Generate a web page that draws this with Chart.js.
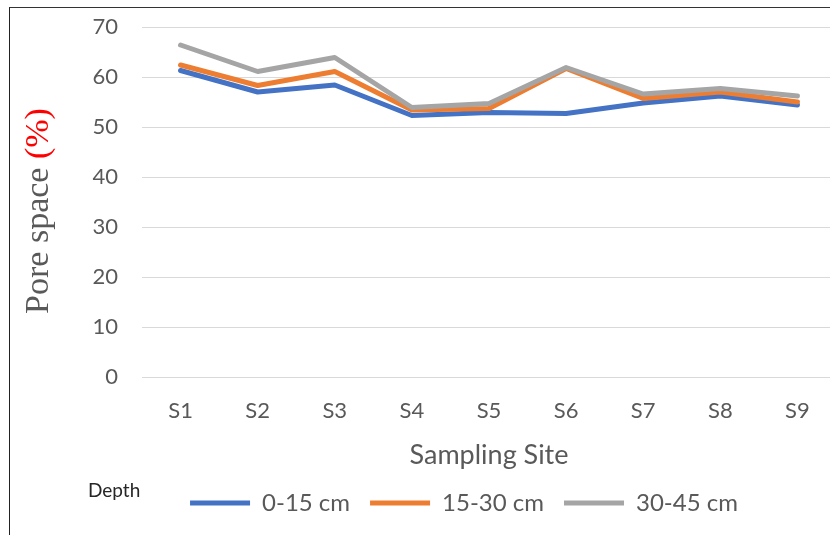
<!DOCTYPE html>
<html>
<head>
<meta charset="utf-8">
<script src="https://cdn.jsdelivr.net/npm/chart.js@4.4.1/dist/chart.umd.min.js"></script>
<style>
  html, body { margin: 0; padding: 0; background: #fff; }
  #wrap { position: relative; width: 830px; height: 535px; overflow: hidden; }
  #frame { position: absolute; left: 9px; top: 7px; right: -10px; bottom: -10px;
           border-left: 1.5px solid #222; border-top: 1.5px solid #333; pointer-events: none; }
  canvas { position: absolute; left: 0; top: 0; }
</style>
</head>
<body>
<div id="wrap">
  <canvas id="chart" width="836" height="535"></canvas>
  <div id="frame"></div>
</div>
<script>
const sites    = ["S1", "S2", "S3", "S4", "S5", "S6", "S7", "S8", "S9"];
const depth0   = [61.3, 57.0, 58.4, 52.3, 52.9, 52.7, 54.8, 56.2, 54.4];
const depth15  = [62.4, 58.3, 61.1, 53.4, 53.7, 61.7, 55.7, 57.0, 55.0];
const depth30  = [66.4, 61.1, 63.9, 53.9, 54.7, 61.9, 56.6, 57.7, 56.2];
const yTicks   = [0, 10, 20, 30, 40, 50, 60, 70];

const SANS = "Lato, 'Open Sans', sans-serif";
const GREY_TXT = "#595959";

// titre Y bicolore + libellé "Depth"
const extras = {
  id: "extras",
  afterDraw(chart) {
    const { ctx, chartArea } = chart;
    ctx.save();
    ctx.font = "34px 'Liberation Serif', 'DejaVu Serif', serif";
    const a = "Pore space ", b = "(%)";
    const wa = ctx.measureText(a).width, wb = ctx.measureText(b).width;
    const cy = (chartArea.top + chartArea.bottom) / 2 + 9;
    ctx.translate(48, cy);
    ctx.rotate(-Math.PI / 2);
    ctx.textBaseline = "alphabetic";
    ctx.textAlign = "left";
    const x0 = -(wa + wb) / 2;
    ctx.fillStyle = GREY_TXT;
    ctx.fillText(a, x0, 0);
    ctx.fillStyle = "#ff0000";
    ctx.fillText(b, x0 + wa, 0);
    ctx.restore();

    ctx.save();
    ctx.font = "19px " + SANS;
    ctx.fillStyle = "#262626";
    ctx.textBaseline = "middle";
    ctx.fillText("Depth", 88, 491);
    ctx.restore();
  },
};

new Chart(document.getElementById("chart"), {
  type: "line",
  data: {
    labels: sites,
    datasets: [
      { label: "0-15 cm",  data: depth0,  borderColor: "#4472C4", backgroundColor: "#4472C4", order: 2 },
      { label: "15-30 cm", data: depth15, borderColor: "#ED7D31", backgroundColor: "#ED7D31", order: 1 },
      { label: "30-45 cm", data: depth30, borderColor: "#A5A5A5", backgroundColor: "#A5A5A5", order: 0 },
    ],
  },
  options: {
    responsive: false,
    animation: false,
    layout: { padding: { left: 92, top: 27, right: 0, bottom: 10 } },
    elements: {
      line:  { borderWidth: 5, tension: 0, borderCapStyle: "round", borderJoinStyle: "round" },
      point: { radius: 0, hoverRadius: 0 },
    },
    plugins: {
      tooltip: { enabled: false },
      legend: {
        position: "bottom",
        labels: {
          boxWidth: 60,
          boxHeight: 5,
          padding: 20,
          color: GREY_TXT,
          font: { family: SANS, size: 24 },
          generateLabels(chart) {
            return chart.data.datasets.map((ds, i) => ({
              text: ds.label,
              fillStyle: ds.borderColor,
              strokeStyle: ds.borderColor,
              lineWidth: 0,
              fontColor: GREY_TXT,
              datasetIndex: i,
              hidden: false,
            }));
          },
        },
      },
    },
    scales: {
      x: {
        offset: true,
        grid: { display: false, drawTicks: false },
        border: { display: false },
        ticks: { color: GREY_TXT, font: { family: SANS, size: 22 }, padding: 21, maxRotation: 0 },
        title: {
          display: true,
          text: "Sampling Site",
          color: GREY_TXT,
          font: { family: SANS, size: 27 },
          padding: { top: 0, bottom: 0 },
        },
        afterFit(axis) {
          axis.height = 94;
          axis.paddingLeft = 0;
          axis.paddingRight = 0;
        },
      },
      y: {
        min: 0,
        max: 70,
        afterBuildTicks(axis) { axis.ticks = yTicks.map(v => ({ value: v })); },
        grid: { color: "#d9d9d9", lineWidth: 1, drawTicks: false },
        border: { display: false },
        ticks: { color: GREY_TXT, font: { family: SANS, size: 22 }, padding: 24 },
        afterFit(axis) {
          axis.width = 50;
          axis.paddingTop = 0;
          axis.paddingBottom = 0;
        },
      },
    },
  },
  plugins: [extras],
});
</script>
</body>
</html>
